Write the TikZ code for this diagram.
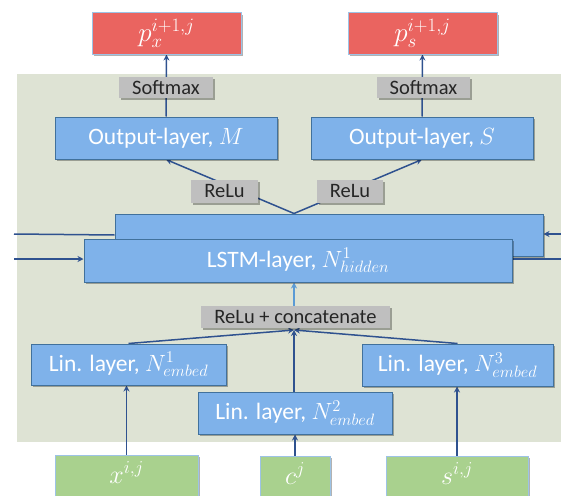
\RequirePackage{fix-cm}
\documentclass[tikz,border=0pt]{standalone}
\usepackage{fontspec}
\setmainfont{Carlito}
\usetikzlibrary{arrows.meta,shadows}
\definecolor{panelc}{HTML}{DEE3D4}
\definecolor{bluef}{HTML}{7FB2EA}
\definecolor{blued}{HTML}{41719C}
\definecolor{redf}{HTML}{EA6460}
\definecolor{greenf}{HTML}{A9D18E}
\definecolor{lborder}{HTML}{9DC3E6}
\definecolor{grayf}{HTML}{BFBFBF}
\definecolor{arrc}{HTML}{2F528F}
\definecolor{larr}{HTML}{5B9BD5}
\pgfdeclarelayer{panel}
\pgfdeclarelayer{edges}
\pgfsetlayers{panel,edges,main}
\tikzset{
  sh/.style={drop shadow={shadow xshift=2pt,shadow yshift=-2pt,opacity=0.3,fill=black}},
  layerbox/.style={draw=blued, line width=1pt, fill=bluef, text=white, inner sep=0pt,
    font=\fontsize{23.5}{27}\selectfont, sh},
  labelbox/.style={fill=grayf, text=black!85, inner sep=0pt,
    font=\fontsize{20.5}{24}\selectfont, sh},
  outbox/.style={draw=lborder, line width=1pt, fill=redf, text=white, inner sep=0pt,
    font=\fontsize{27}{30}\selectfont, sh},
  inbox/.style={draw=lborder, line width=1pt, fill=greenf, text=white, inner sep=0pt,
    font=\fontsize{26}{29}\selectfont, sh},
  arr/.style={draw=arrc, line width=1.5pt, -{Stealth[length=6pt,width=6pt]}},
  lnk/.style={draw=arrc, line width=1.5pt},
  larrow/.style={draw=larr, line width=1.5pt, -{Stealth[length=6pt,width=6pt]}},
}
\begin{document}
\begin{tikzpicture}[x=1pt,y=-1pt]
\useasboundingbox (0,0) rectangle (561,495);
\begin{pgfonlayer}{panel}
  \fill[panelc] (17,74) rectangle (561,442);
\end{pgfonlayer}

% outputs
\node[outbox, minimum width=149pt, minimum height=41pt] (px) at (166.5,33.5) {$p_x^{i+1,j}$};
\node[outbox, minimum width=149pt, minimum height=41pt] (ps) at (422.5,33.5) {$p_s^{i+1,j}$};
\node[labelbox, minimum width=94pt, minimum height=21pt] (sm1) at (166,87.5) {Softmax};
\node[labelbox, minimum width=93pt, minimum height=21pt] (sm2) at (423.5,87.5) {Softmax};
\node[layerbox, minimum width=222pt, minimum height=42pt] (outM) at (166,138) {Output-layer, $M$};
\node[layerbox, minimum width=222pt, minimum height=42pt] (outS) at (422,138) {Output-layer, $S$};
\node[labelbox, minimum width=67pt, minimum height=23pt] (relu1) at (224.5,191) {ReLu};
\node[labelbox, minimum width=66pt, minimum height=23pt] (relu2) at (350,191) {ReLu};

% LSTM
\node[layerbox, minimum width=428pt, minimum height=42pt] (lstmB) at (329,235) {};
\node[layerbox, minimum width=428pt, minimum height=43pt] (lstmF) at (298,260.5) {LSTM-layer, $N^1_{hidden}$};

\node[labelbox, minimum width=189pt, minimum height=22pt] (concat) at (295.5,317) {ReLu + concatenate};

% linear layers
\node[layerbox, minimum width=195pt, minimum height=41pt] (lin1) at (128.5,364.5) {Lin. layer, $N^1_{embed}$};
\node[layerbox, minimum width=194pt, minimum height=42pt] (lin2) at (295,413) {Lin. layer, $N^2_{embed}$};
\node[layerbox, minimum width=191pt, minimum height=42pt] (lin3) at (457.5,365) {Lin. layer, $N^3_{embed}$};

% inputs
\node[inbox, minimum width=143pt, minimum height=56pt] (gx) at (126.5,483) {\smash{$x^{i,j}$}};
\node[inbox, minimum width=70pt, minimum height=56pt] (gc) at (295,484) {\smash{$c^{j}$}};
\node[inbox, minimum width=142pt, minimum height=56pt] (gs) at (457,484) {\smash{$s^{i,j}$}};

% free ends
\coordinate (l1) at (14,234);
\coordinate (l2) at (14,259);
\coordinate (r1) at (561,234);
\coordinate (r2) at (561,259);
\coordinate (m) at (294,330);

\begin{pgfonlayer}{edges}
  \draw[arr] (outM.north) -- (px.south);
  \draw[arr] (outS.north) -- (ps.south);
  \draw[arr] (m |- lstmB.north) -- (outM.south);
  \draw[arr] (m |- lstmB.north) -- (outS.south);
  \draw[lnk] (l1) -- (lstmB.west);
  \draw[arr] (l2) -- (l2 -| lstmF.west);
  \draw[arr] (r1) -- (r1 -| lstmB.east);
  \draw[lnk] (r2 -| lstmF.east) -- (r2);
  \draw[larrow] (concat.north -| m) -- (lstmF.south -| m);
  \draw[arr] (lin1.north) -- (m);
  \draw[arr] (lin2.north -| m) -- (m);
  \draw[arr] (lin3.north) -- (m);
  \draw[arr] (gx.north) -- (gx.north |- lin1.south);
  \draw[arr] (gc.north -| lin2.south) -- (lin2.south);
  \draw[arr] (gs.north) -- (gs.north |- lin3.south);
\end{pgfonlayer}
\end{tikzpicture}
\end{document}
